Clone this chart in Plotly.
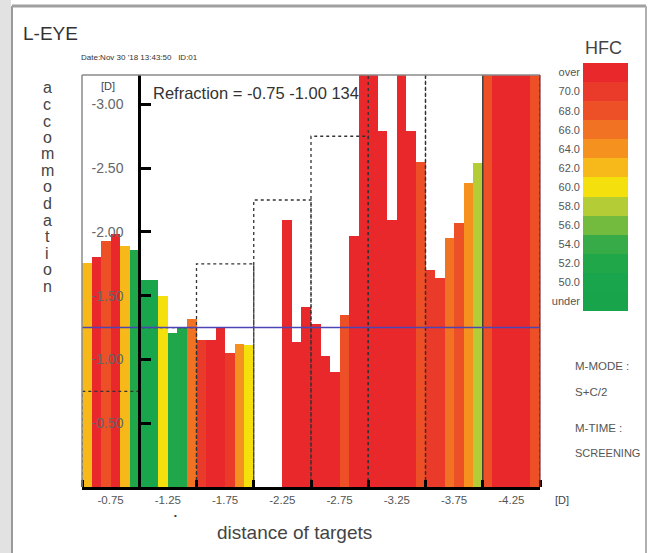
import plotly.graph_objects as go

# ---------------- data ----------------
targets = ["-0.75", "-1.25", "-1.75", "-2.25", "-2.75", "-3.25", "-3.75", "-4.25"]
target_levels = [-0.75, -1.25, -1.75, -2.25, -2.75, -3.25, -3.75, -4.25]

# accommodation [D], six measurements per target (None = no value, -3.40 = over range)
accommodation = [
    -1.76, -1.80, -1.93, -1.98, -1.89, -1.86,   # -0.75
    -1.62, -1.62, -1.50, -1.21, -1.25, -1.32,   # -1.25
    -1.15, -1.15, -1.25, -1.05, -1.12, -1.11,   # -1.75
    None, None, None, -2.09, -1.14, -1.41,      # -2.25
    -1.28, -1.03, -0.90, -1.35, -1.97, -3.40,   # -2.75
    -3.40, -2.79, -2.09, -3.40, -2.79, -2.55,   # -3.25
    -1.70, -1.64, -1.95, -2.07, -2.38, -2.54,   # -3.75
    -3.40, -3.40, -3.40, -3.40, -3.40, -3.40,   # -4.25
]
# HFC class of each measurement (labels of the HFC scale)
hfc = [
    "62.0", "over", "68.0", "over", "62.0", "52.0",
    "50.0", "50.0", "60.0", "52.0", "52.0", "66.0",
    "70.0", "over", "over", "70.0", "64.0", "60.0",
    "over", "over", "over", "over", "over", "over",
    "over", "over", "over", "68.0", "over", "over",
    "over", "over", "over", "over", "over", "68.0",
    "70.0", "70.0", "66.0", "68.0", "64.0", "58.0",
    "68.0", "over", "over", "over", "over", "68.0",
]
hfc_labels = ["under", "50.0", "52.0", "54.0", "56.0", "58.0", "60.0",
              "62.0", "64.0", "66.0", "68.0", "70.0", "over"]
hfc_colors = ["#18a44b", "#19a54b", "#1fa74a", "#36ab47", "#72bb3e", "#b4cd36", "#f4e00c",
              "#f7b81a", "#f5921f", "#f17222", "#ed4f26", "#ea3a29", "#e8282a"]
y_tick_vals = [-3.0, -2.5, -2.0, -1.5, -1.0, -0.5]
y_tick_text = ["-3.00", "-2.50", "-2.00", "-1.50", "-1.00", "-0.50"]
m_mode_level = -1.25   # S + C/2
n_meas = 6

# ---------------- helpers (layout only) ----------------
W, H = 648, 553
def px(x): return x / W
def py(y): return 1 - y / H

n = len(hfc_labels)
colorscale = []
for i, c in enumerate(hfc_colors):
    colorscale.append([i / n, c])
    colorscale.append([(i + 1) / n, c])

FONT = "Arial, Liberation Sans, sans-serif"
GREY = "#555555"

fig = go.Figure()

xi = list(range(len(targets)))
for j in range(n_meas):
    vals = accommodation[j::n_meas]
    cls = [hfc_labels.index(h) for h in hfc[j::n_meas]]
    fig.add_trace(go.Bar(
        x=xi, y=vals, marker=dict(color=cls, colorscale=colorscale, cmin=-0.5, cmax=n - 0.5,
                                  line=dict(width=0)),
        xaxis="x", yaxis="y", showlegend=False, hoverinfo="skip"))

# target stimulus boxes (dotted)
bx, by = [], []
for i, lv in enumerate(target_levels):
    bx += [i - 0.5, i - 0.5, i + 0.5, i + 0.5, None]
    by += [0, lv, lv, 0, None]
fig.add_trace(go.Scatter(x=bx, y=by, mode="lines", line=dict(color="#333333", width=1.3, dash="dot"),
                         xaxis="x", yaxis="y", showlegend=False, hoverinfo="skip"))

# M-MODE reference line
fig.add_trace(go.Scatter(x=[-0.5, len(targets) - 0.5], y=[m_mode_level, m_mode_level], mode="lines",
                         line=dict(color="#4b45b5", width=1.6), xaxis="x", yaxis="y",
                         showlegend=False, hoverinfo="skip"))

# HFC scale
fig.add_trace(go.Heatmap(z=[[i] for i in range(n)], x=[0], y=hfc_labels, colorscale=colorscale,
                         zmin=-0.5, zmax=n - 0.5, showscale=False, xaxis="x2", yaxis="y2",
                         hoverinfo="skip"))

x0, x1 = px(82), px(540)
fig.update_layout(
    width=W, height=H, margin=dict(l=0, r=0, t=0, b=0),
    paper_bgcolor="white", plot_bgcolor="rgba(0,0,0,0)",
    barmode="group", bargap=0, bargroupgap=0,
    font=dict(family=FONT, color=GREY),
    xaxis=dict(domain=[x0, x1], range=[-0.5, len(targets) - 0.5], tickvals=xi, ticktext=targets,
               ticks="", showgrid=False, zeroline=False, showline=True, linecolor="black",
               linewidth=3, anchor="y", automargin=False,
               tickfont=dict(size=11.5, color=GREY, family=FONT),
               minor=dict(tick0=-0.5, dtick=1, ticks="inside", ticklen=7, tickwidth=3,
                          tickcolor="black", showgrid=False)),
    yaxis=dict(domain=[py(487), py(75)], range=[0.0, -3.23], tickvals=y_tick_vals,
               ticktext=y_tick_text, ticks="inside", ticklen=10, tickwidth=3, tickcolor="black",
               showline=True, linecolor="black", linewidth=3, showgrid=False, zeroline=False,
               anchor="free", position=x0 + (x1 - x0) / len(targets), automargin=False,
               ticklabelstandoff=12, tickfont=dict(size=14, color="#666666", family=FONT)),
    xaxis2=dict(domain=[px(583), px(628)], anchor="y2", visible=False, range=[-0.5, 0.5]),
    yaxis2=dict(domain=[py(311), py(63)], anchor="x2", showgrid=False, zeroline=False,
                showline=False, ticks="", automargin=False, ticklabelstandoff=2,
                tickfont=dict(size=11, color=GREY, family=FONT)),
)

shapes = [
    # window frame
    dict(type="rect", xref="paper", yref="paper", x0=0, x1=px(11), y0=0, y1=1,
         fillcolor="#e2e2e2", line=dict(width=0), layer="below"),
    dict(type="line", xref="paper", yref="paper", x0=px(12), x1=px(12), y0=0, y1=py(6),
         line=dict(color="#9a9a9a", width=2)),
    dict(type="line", xref="paper", yref="paper", x0=px(12), x1=px(646), y0=py(6), y1=py(6),
         line=dict(color="#a0a0a0", width=3)),
    dict(type="line", xref="paper", yref="paper", x0=px(646), x1=px(646), y0=0, y1=py(6),
         line=dict(color="#b0b0b0", width=2)),
    # plot frame
    dict(type="line", xref="paper", yref="paper", x0=x0, x1=x1, y0=py(75), y1=py(75),
         line=dict(color="#8a8a8a", width=1.5)),
    dict(type="line", xref="paper", yref="paper", x0=x0, x1=x0, y0=py(487), y1=py(75),
         line=dict(color="#8a8a8a", width=1.5)),
    dict(type="line", xref="paper", yref="paper", x0=x1, x1=x1, y0=py(487), y1=py(75),
         line=dict(color="#7a3030", width=1.2)),
]
fig.update_layout(shapes=shapes)

def ann(text, x, y, size, xanchor="left", color="#333333", yanchor="middle"):
    return dict(text=text, x=px(x), y=py(y), xref="paper", yref="paper", showarrow=False,
                xanchor=xanchor, yanchor=yanchor, font=dict(size=size, color=color, family=FONT))

annotations = [
    ann("L-EYE", 21, 34, 19),
    ann("Date:Nov 30 '18 13:43:50&nbsp;&nbsp;&nbsp;ID:01", 79, 58, 8),
    ann("[D]", 108, 86, 11, xanchor="center", color="#444444"),
    ann("Refraction = -0.75 -1.00 134", 151, 93, 16.5),
    ann("HFC", 603, 48, 18, xanchor="center", color="#444444"),
    ann("M-MODE :", 573, 366, 11.5, color=GREY),
    ann("S+C/2", 573, 392, 11.5, color=GREY),
    ann("M-TIME :", 573, 428, 11.5, color=GREY),
    ann("SCREENING", 573, 453, 11, color=GREY),
    ann("[D]", 553, 500, 11, color="#444444"),
    ann("distance of targets", 294, 532, 19, xanchor="center", color="#444444"),
    ann("•", 175, 515, 8, xanchor="center", color="#333333"),
]
for k, ch in enumerate("accommodation"):
    annotations.append(ann(ch, 47, 88 + k * 16.5, 16, xanchor="center", color="#444444"))
fig.update_layout(annotations=annotations)

fig.write_html("out.html", config={"displayModeBar": False},
               post_script="document.body.style.margin='0px';")
